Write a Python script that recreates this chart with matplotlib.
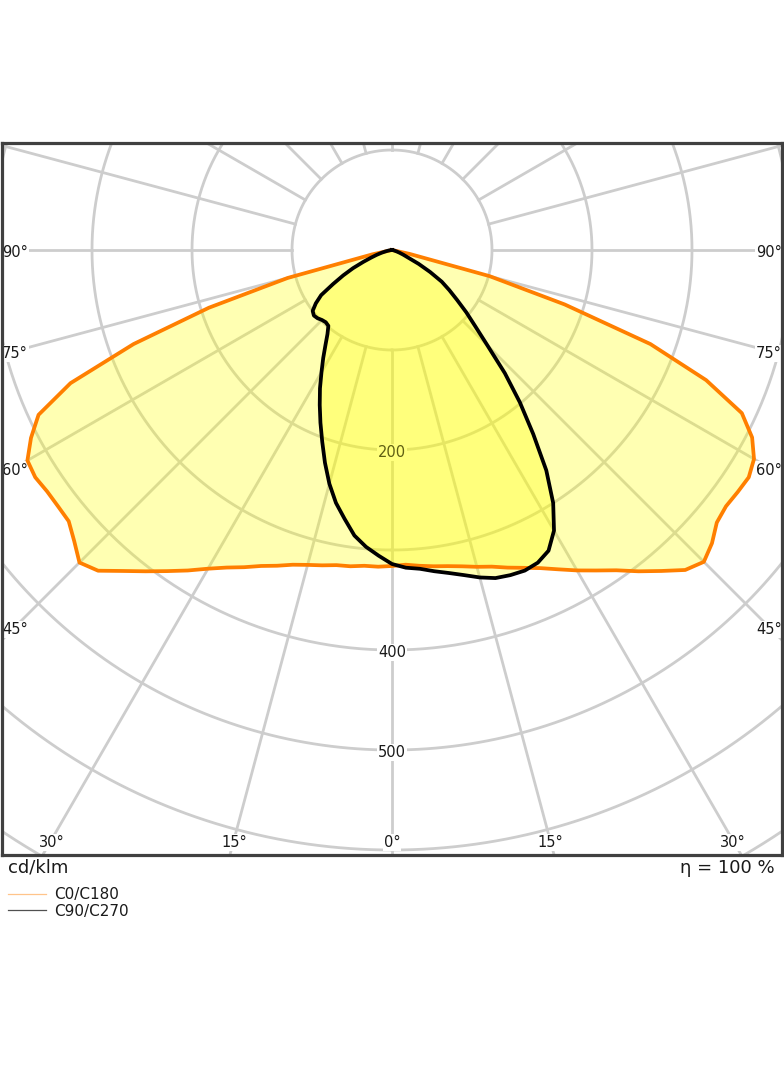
import numpy as np
import matplotlib
matplotlib.use("Agg")
import matplotlib.pyplot as plt
from matplotlib.lines import Line2D

# gamma angle [deg] for every half plane, 0 = straight down
gamma = np.arange(0, 90.1, 2.5)

# luminous intensity [cd/klm]
c0 = [316, 315, 317, 319, 321, 324, 328, 332, 338, 344, 351, 360, 370, 380,
      391, 405, 419, 434, 441, 434, 424, 421, 422, 423, 418, 406, 386, 340,
      275, 181, 101, 18, 0, 0, 0, 0, 0]
c180 = [316, 317, 317, 319, 320, 323, 326, 330, 336, 342, 350, 358, 368, 380,
        392, 405, 419, 435, 442, 431, 422, 421, 421, 423, 421, 407, 390, 348,
        275, 192, 108, 20, 0, 0, 0, 0, 0]
c90 = [314, 318, 320, 324, 328, 333, 339, 344, 346, 347, 345, 339, 324, 300,
       269, 232, 199, 167, 135, 113, 97, 82, 70, 59, 44, 30, 17, 12,
       8, 5, 3, 2, 1, 0, 0, 0, 0]
c270 = [314, 306, 298, 288, 273, 259, 242, 223, 204, 187, 171, 156, 141, 128,
        116, 106, 99, 98, 99, 101, 102, 100, 93, 84, 68, 55, 43, 31,
        22, 16, 11, 7, 4, 2, 1, 0, 0]

ring_values = [100, 200, 300, 400, 500, 600, 700, 800]
ring_labels = [200, 400, 500]
side_angles = [45, 60, 75, 90]
bottom_angles = [0, 15, 30]


def to_xy(g, r, side=1):
    # polar (gamma from nadir) -> cartesian, side=+1 right, -1 left
    g = np.radians(np.asarray(g, dtype=float))
    r = np.asarray(r, dtype=float)
    return side * r * np.sin(g), -r * np.cos(g)


def curve(left, right):
    xl, yl = to_xy(gamma[::-1], np.asarray(left)[::-1], -1)
    xr, yr = to_xy(gamma, right, 1)
    return np.concatenate([xl, xr]), np.concatenate([yl, yr])


W, H = 784, 1066
fig = plt.figure(figsize=(W / 100, H / 100), dpi=100)
ax = fig.add_axes([1.5 / W, 1 - 855 / H, 780.5 / W, 712 / H])
ax.set_xlim(-390.5, 390)
ax.set_ylim(-605, 107)

grid_col = "#cdcdcd"
phi = np.linspace(0, 360, 721)
for rv in ring_values:
    x, y = to_xy(phi, np.full_like(phi, rv))
    ax.plot(x, y, color=grid_col, lw=2, zorder=1)
for a in range(0, 360, 15):
    x, y = to_xy([a, a], [100, 1000])
    ax.plot(x, y, color=grid_col, lw=2, zorder=1)

txt = "#1a1a1a"
dy = -2.5  # small downward nudge of the labels
box = dict(boxstyle="square,pad=0.08", fc="white", ec="none")
for rv in ring_labels:
    # white patch under the fills, digits above the light fill
    ax.text(0, -rv + dy, str(rv), ha="center", va="center", fontsize=10.5,
            color="none", bbox=box, zorder=2)
    ax.text(0, -rv + dy, str(rv), ha="center", va="center", fontsize=10.5,
            color=txt, zorder=3.5)
for a in side_angles:
    yy = 0 if a == 90 else -377 / np.tan(np.radians(a))
    for s in (-1, 1):
        ax.text(s * 377, yy + dy, f"{a}°", ha="center", va="center",
                fontsize=10.5, color=txt, bbox=box, zorder=2)
for a in bottom_angles:
    xx = 590 * np.tan(np.radians(a))
    for s in ((1,) if a == 0 else (-1, 1)):
        ax.text(s * xx, -590 + dy, f"{a}°", ha="center", va="center",
                fontsize=10.5, color=txt, bbox=box, zorder=2)

# C0/C180 (orange) and C90/C270 (black)
xo, yo = curve(c180, c0)
xb, yb = curve(c270, c90)
ax.fill(xo, yo, color="#ffff00", alpha=0.3, lw=0, zorder=3)
ax.fill(xb, yb, color="#ffff00", alpha=0.3, lw=0, zorder=3.6)
ax.plot(xo, yo, color="#ff7f00", lw=2.7, zorder=4, solid_joinstyle="round")
ax.plot(xb, yb, color="black", lw=2.7, zorder=5, solid_joinstyle="round")

ax.set_xticks([])
ax.set_yticks([])
for sp in ax.spines.values():
    sp.set_color("#404040")
    sp.set_linewidth(2.3)

fig.text(8 / W, 1 - 868 / H, "cd/klm", ha="left", va="center",
         fontsize=13, color=txt)
fig.text(775 / W, 1 - 868 / H, "η = 100 %", ha="right", va="center",
         fontsize=13, color=txt)

handles = [Line2D([], [], color="#ffc48a", lw=0.9),
           Line2D([], [], color="#505050", lw=0.9)]
fig.legend(handles, ["C0/C180", "C90/C270"], loc="upper left",
           bbox_to_anchor=(8 / W, 1 - 887 / H), frameon=False,
           fontsize=11, handlelength=2.5, handletextpad=0.5,
           labelspacing=0.1, borderpad=0, borderaxespad=0,
           labelcolor=txt)

fig.savefig("out.png", dpi=100)
